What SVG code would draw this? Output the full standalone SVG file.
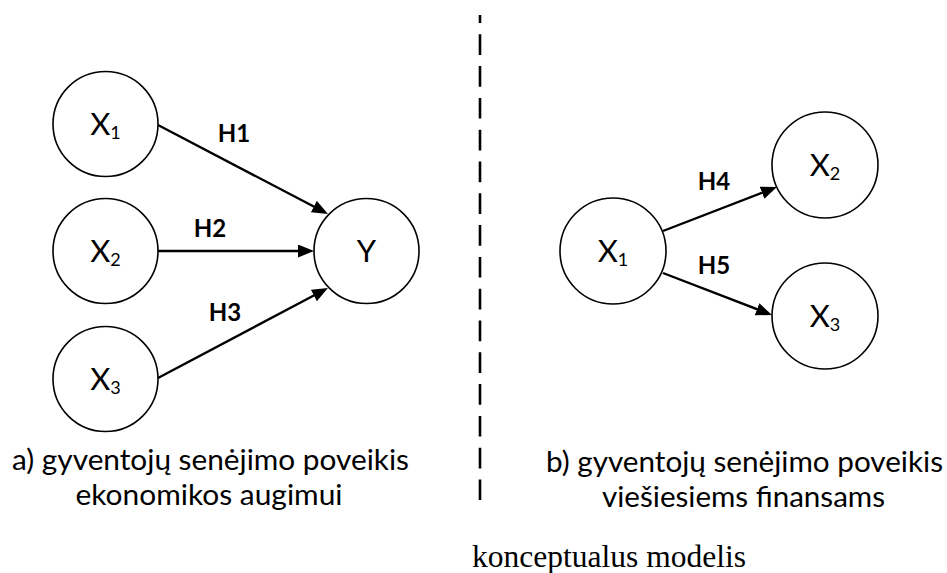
<svg xmlns="http://www.w3.org/2000/svg" width="947" height="573" viewBox="0 0 947 573">
<defs>
<style>
.node{fill:#fff;stroke:#000;stroke-width:1.6}
.lbl{font-family:Lato,"Open Sans","Liberation Sans",sans-serif;font-size:31px;fill:#000;text-anchor:middle}
.sub{font-size:18px}
.edge{stroke:#000;stroke-width:2.4;fill:none;marker-end:url(#ah)}
.elbl{font-family:Lato,"Open Sans","Liberation Sans",sans-serif;font-size:24px;font-weight:bold;fill:#000;text-anchor:middle}
.cap{font-family:Lato,"Open Sans","Liberation Sans",sans-serif;font-size:28px;fill:#000;text-anchor:middle}
.title{font-family:"Liberation Serif","Times New Roman",serif;font-size:31.5px;fill:#000;text-anchor:middle}
.sep{stroke:#000;stroke-width:2.6;fill:none}
</style>
<marker id="ah" markerUnits="userSpaceOnUse" markerWidth="17" markerHeight="14" refX="8" refY="6.5" orient="auto">
<path d="M0,0 L16,6.5 L0,13 z" fill="#000"/>
</marker>
</defs>
<rect width="947" height="573" fill="#fff"/>

<g id="separator">
<path class="sep" d="M480,15 V23"/>
<path class="sep" d="M480,34.3 V500" stroke-dasharray="20.7 11.1"/>
</g>

<g id="connectors">
<path id="e-h1" class="edge" d="M158,125 L320.9,210.3"/>
<path id="e-h2" class="edge" d="M158,251 L306,251"/>
<path id="e-h3" class="edge" d="M158,378 L320.9,291.7"/>
<path id="e-h4" class="edge" d="M663,231 L769.5,189.9"/>
<path id="e-h5" class="edge" d="M663,273 L764.5,312.1"/>
<text class="elbl" x="234" y="142">H1</text>
<text class="elbl" x="210" y="237">H2</text>
<text class="elbl" x="225" y="321">H3</text>
<text class="elbl" x="714" y="190">H4</text>
<text class="elbl" x="714" y="274">H5</text>
</g>

<g id="a-x1">
<circle class="node" cx="105.5" cy="124" r="52.5"/>
<text class="lbl" x="105.5" y="135">X<tspan class="sub" dy="4">1</tspan></text>
</g>
<g id="a-x2">
<circle class="node" cx="105.5" cy="251" r="52.5"/>
<text class="lbl" x="105.5" y="262">X<tspan class="sub" dy="4">2</tspan></text>
</g>
<g id="a-x3">
<circle class="node" cx="105.5" cy="379" r="52.5"/>
<text class="lbl" x="105.5" y="390">X<tspan class="sub" dy="4">3</tspan></text>
</g>
<g id="a-y">
<circle class="node" cx="366.5" cy="251" r="52.5"/>
<text class="lbl" x="366.5" y="262">Y</text>
</g>

<g id="b-x1">
<circle class="node" cx="613" cy="251" r="53"/>
<text class="lbl" x="613" y="262">X<tspan class="sub" dy="4">1</tspan></text>
</g>
<g id="b-x2">
<circle class="node" cx="825" cy="165" r="53"/>
<text class="lbl" x="825" y="176">X<tspan class="sub" dy="4">2</tspan></text>
</g>
<g id="b-x3">
<circle class="node" cx="825" cy="316" r="53"/>
<text class="lbl" x="825" y="327">X<tspan class="sub" dy="4">3</tspan></text>
</g>

<g id="captions">
<text class="cap" x="210.5" y="470" textLength="397" lengthAdjust="spacingAndGlyphs">a) gyventojų senėjimo poveikis</text>
<text class="cap" x="209" y="505" textLength="267" lengthAdjust="spacingAndGlyphs">ekonomikos augimui</text>
<text class="cap" x="744.5" y="472" textLength="397" lengthAdjust="spacingAndGlyphs">b) gyventojų senėjimo poveikis</text>
<text class="cap" x="743.5" y="507" textLength="283" lengthAdjust="spacingAndGlyphs">viešiesiems finansams</text>
<text class="title" x="609" y="567">konceptualus modelis</text>
</g>
</svg>
